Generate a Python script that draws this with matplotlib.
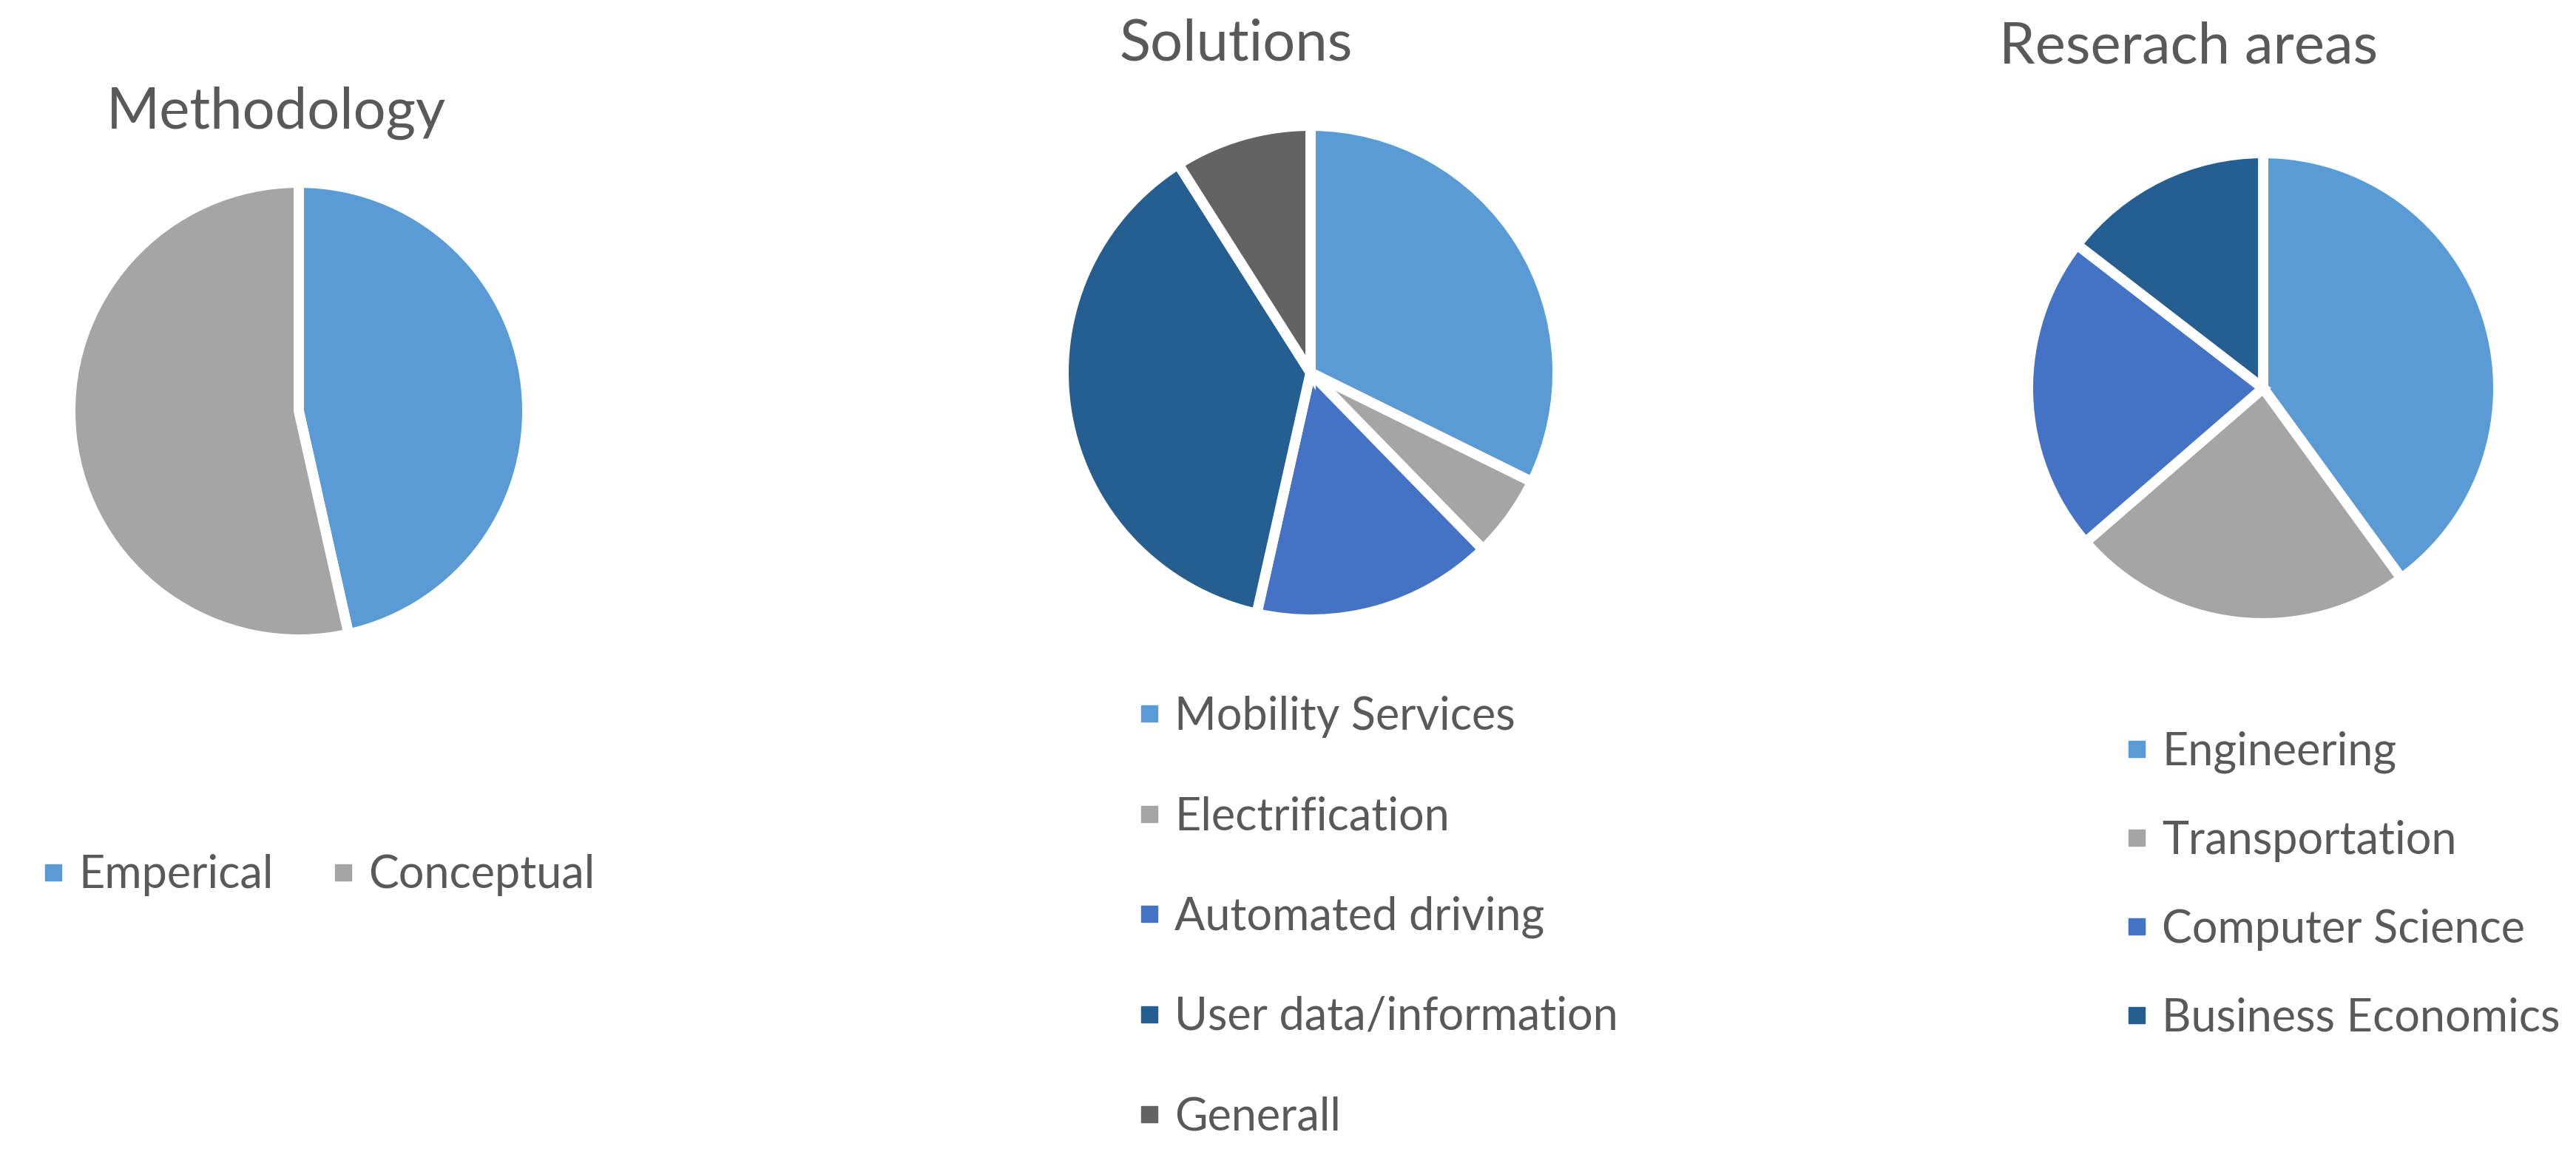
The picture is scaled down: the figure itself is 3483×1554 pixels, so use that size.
import matplotlib.pyplot as plt
from matplotlib.lines import Line2D

# data (shares in %)
method_labels = ["Emperical", "Conceptual"]
method_values = [46.5, 53.5]

solution_labels = ["Mobility Services", "Electrification", "Automated driving",
                   "User data/information", "Generall"]
solution_values = [32.3, 5.4, 15.8, 37.5, 9.0]

research_labels = ["Engineering", "Transportation", "Computer Science",
                   "Business Economics"]
research_values = [22, 13, 12, 8]

palette = ["#5B9BD5", "#A5A5A5", "#4472C4", "#255E91", "#636363"]
text_color = "#595959"

plt.rcParams['font.family'] = ['Lato', 'DejaVu Sans']

W, H, DPI = 3483, 1554, 100
fig = plt.figure(figsize=(W / DPI, H / DPI), dpi=DPI)

EDGE = 10  # pt, white gap between slices
pad = EDGE * DPI / 72 / 2


def pie_axes(cx, cy, r):
    r = r + pad
    return fig.add_axes([(cx - r) / W, (H - cy - r) / H, 2 * r / W, 2 * r / H])


def draw_pie(ax, values, labels):
    wedges, _ = ax.pie(values, colors=palette[:len(values)], startangle=90,
                       counterclock=False, radius=1,
                       wedgeprops=dict(edgecolor='white', linewidth=EDGE))
    ax.set_xlim(-1, 1)
    ax.set_ylim(-1, 1)
    ax.set_aspect('equal')
    ax.axis('off')
    return wedges


def handles(n):
    return [Line2D([], [], marker='s', linestyle='none', markersize=16,
                   markerfacecolor=palette[i], markeredgecolor=palette[i])
            for i in range(n)]


legend_kw = dict(frameon=False, fontsize=44, labelcolor=text_color,
                 borderpad=0, borderaxespad=0, handletextpad=0.25,
                 handlelength=0.6, loc='center left',
                 bbox_transform=fig.transFigure)

# Methodology
ax1 = pie_axes(404, 556, 302)
draw_pie(ax1, method_values, method_labels)
fig.text(373 / W, 1 - 153 / H, "Methodology", ha='center', va='center',
         fontsize=56, color=text_color)
fig.legend(handles(2), method_labels, ncol=2, columnspacing=1.25,
           bbox_to_anchor=(54 / W, 1 - 1184 / H), **legend_kw)

# Solutions
ax2 = pie_axes(1772, 504, 327)
draw_pie(ax2, solution_values, solution_labels)
fig.text(1671 / W, 1 - 60 / H, "Solutions", ha='center', va='center',
         fontsize=56, color=text_color)
fig.legend(handles(5), solution_labels, labelspacing=1.28,
           bbox_to_anchor=(1536 / W, 1 - 1240 / H), **legend_kw)

# Research areas
ax3 = pie_axes(3060, 525, 311)
draw_pie(ax3, research_values, research_labels)
fig.text(2959 / W, 1 - 64 / H, "Reserach areas", ha='center', va='center',
         fontsize=56, color=text_color)
fig.legend(handles(4), research_labels, labelspacing=1.03,
           bbox_to_anchor=(2871 / W, 1 - 1197 / H), **legend_kw)

plt.savefig('out.png', dpi=DPI)
